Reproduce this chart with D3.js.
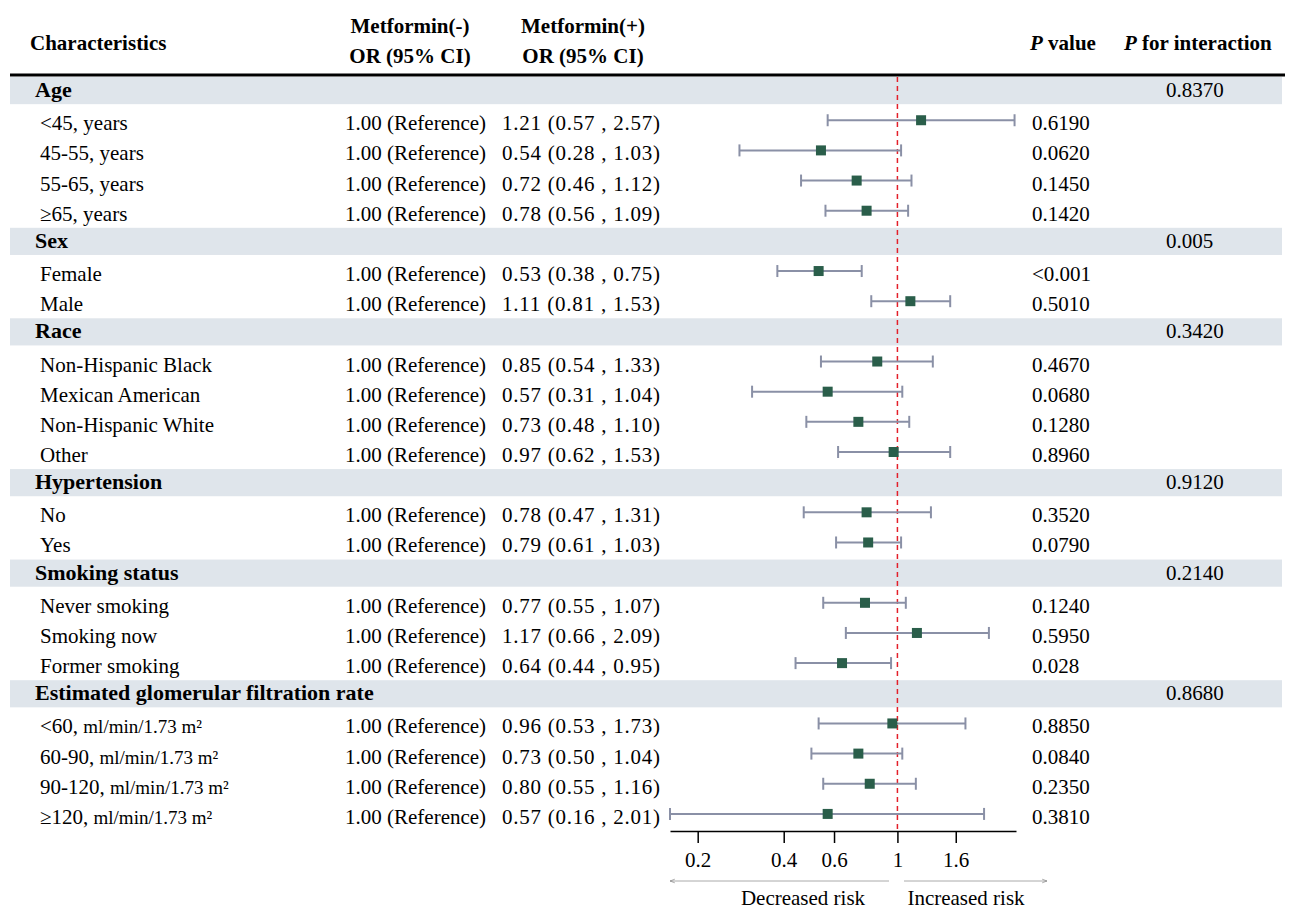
<!DOCTYPE html>
<html>
<head>
<meta charset="utf-8">
<script src="https://cdn.jsdelivr.net/npm/d3@7"></script>
<style>
  body { margin: 0; background: #fff; }
  svg { display: block; font-family: "Liberation Serif", "DejaVu Serif", serif; }
</style>
</head>
<body>
<div id="chart"></div>
<script>
// group headers and their interaction p values
const groups = ["Age", "Sex", "Race", "Hypertension", "Smoking status", "Estimated glomerular filtration rate"];
const pInteraction = ["0.8370", "0.005", "0.3420", "0.9120", "0.2140", "0.8680"];

// subgroup rows
const subGroup = [0, 0, 0, 0, 1, 1, 2, 2, 2, 2, 3, 3, 4, 4, 4, 5, 5, 5, 5];
const subLabels = ["<45, years", "45-55, years", "55-65, years", "\u226565, years",
  "Female", "Male",
  "Non-Hispanic Black", "Mexican American", "Non-Hispanic White", "Other",
  "No", "Yes",
  "Never smoking", "Smoking now", "Former smoking",
  "<60, |ml/min/1.73 m\u00b2", "60-90, |ml/min/1.73 m\u00b2", "90-120, |ml/min/1.73 m\u00b2", "\u2265120, |ml/min/1.73 m\u00b2"];
const orValues = [1.21, 0.54, 0.72, 0.78, 0.53, 1.11, 0.85, 0.57, 0.73, 0.97, 0.78, 0.79, 0.77, 1.17, 0.64, 0.96, 0.73, 0.80, 0.57];
const lowerCI = [0.57, 0.28, 0.46, 0.56, 0.38, 0.81, 0.54, 0.31, 0.48, 0.62, 0.47, 0.61, 0.55, 0.66, 0.44, 0.53, 0.50, 0.55, 0.16];
const upperCI = [2.57, 1.03, 1.12, 1.09, 0.75, 1.53, 1.33, 1.04, 1.10, 1.53, 1.31, 1.03, 1.07, 2.09, 0.95, 1.73, 1.04, 1.16, 2.01];
const pValues = ["0.6190", "0.0620", "0.1450", "0.1420", "<0.001", "0.5010", "0.4670", "0.0680", "0.1280", "0.8960",
  "0.3520", "0.0790", "0.1240", "0.5950", "0.028", "0.8850", "0.0840", "0.2350", "0.3810"];

const tickValues = [0.2, 0.4, 0.6, 1, 1.6];
const tickLabels = ["0.2", "0.4", "0.6", "1", "1.6"];

// build the row list: header then its subgroups
const rows = [];
groups.forEach((g, gi) => {
  rows.push({ type: "group", label: g, pint: pInteraction[gi] });
  subGroup.forEach((sg, i) => {
    if (sg === gi) {
      rows.push({ type: "item", label: subLabels[i], or: orValues[i], lo: lowerCI[i], hi: upperCI[i], p: pValues[i] });
    }
  });
});

const width = 1292, height = 915;
const svg = d3.select("#chart").append("svg")
  .attr("width", width)
  .attr("height", height);

svg.append("rect").attr("width", width).attr("height", height).attr("fill", "#fff");

const y = d3.scaleBand()
  .domain(d3.range(rows.length))
  .range([75, 829]);

const x = d3.scaleLog()
  .domain([0.16, 2.6])
  .range([670, 1016]);

const fs = 21;

// column headers
const head = svg.append("g").attr("font-weight", "bold").attr("font-size", fs).attr("fill", "#000");
head.append("text").attr("x", 30).attr("y", 50).text("Characteristics");
head.append("text").attr("x", 410).attr("y", 33).attr("text-anchor", "middle").text("Metformin(-)");
head.append("text").attr("x", 410).attr("y", 63).attr("text-anchor", "middle").text("OR (95% CI)");
head.append("text").attr("x", 583).attr("y", 33).attr("text-anchor", "middle").text("Metformin(+)");
head.append("text").attr("x", 583).attr("y", 63).attr("text-anchor", "middle").text("OR (95% CI)");
const pv = head.append("text").attr("x", 1030).attr("y", 50);
pv.append("tspan").attr("font-style", "italic").text("P");
pv.append("tspan").text(" value");
const pi = head.append("text").attr("x", 1124).attr("y", 50);
pi.append("tspan").attr("font-style", "italic").text("P");
pi.append("tspan").text(" for interaction");

// group bands
const groupRows = rows.map((r, i) => ({ ...r, i })).filter(r => r.type === "group");
const itemRows = rows.map((r, i) => ({ ...r, i })).filter(r => r.type === "item");

svg.append("g").selectAll("rect")
  .data(groupRows)
  .join("rect")
  .attr("x", 10)
  .attr("width", 1272)
  .attr("y", d => y(d.i) + 2)
  .attr("height", y.bandwidth() - 3)
  .attr("fill", "#dfe5eb");

// thick header rule
svg.append("line")
  .attr("x1", 10).attr("x2", 1285)
  .attr("y1", 75).attr("y2", 75)
  .attr("stroke", "#000").attr("stroke-width", 3);

const mid = i => y(i) + y.bandwidth() / 2;

// group labels
const gl = svg.append("g").attr("font-size", fs);
gl.selectAll("text.gname")
  .data(groupRows)
  .join("text")
  .attr("class", "gname")
  .attr("x", 35)
  .attr("y", d => mid(d.i) + 7)
  .attr("font-weight", "bold")
  .attr("font-size", 22)
  .text(d => d.label);
gl.selectAll("text.pint")
  .data(groupRows)
  .join("text")
  .attr("class", "pint")
  .attr("x", 1166)
  .attr("y", d => mid(d.i) + 7)
  .text(d => d.pint);

// item labels and columns
const il = svg.append("g").attr("font-size", fs);
const lab = il.selectAll("text.lab")
  .data(itemRows)
  .join("text")
  .attr("class", "lab")
  .attr("x", 40)
  .attr("y", d => mid(d.i) + 10);
lab.each(function (d) {
  const parts = d.label.split("|");
  const t = d3.select(this);
  t.append("tspan").text(parts[0]);
  if (parts[1]) t.append("tspan").attr("font-size", 19).text(parts[1]);
});

il.selectAll("text.ref")
  .data(itemRows)
  .join("text")
  .attr("class", "ref")
  .attr("x", 345)
  .attr("y", d => mid(d.i) + 10)
  .text("1.00 (Reference)");

const f2 = d3.format(".2f");
il.selectAll("text.or")
  .data(itemRows)
  .join("text")
  .attr("class", "or")
  .attr("x", 502)
  .attr("y", d => mid(d.i) + 10)
  .attr("textLength", 158)
  .attr("lengthAdjust", "spacing")
  .text(d => `${f2(d.or)} (${f2(d.lo)} , ${f2(d.hi)})`);

il.selectAll("text.p")
  .data(itemRows)
  .join("text")
  .attr("class", "p")
  .attr("x", 1032)
  .attr("y", d => mid(d.i) + 10)
  .text(d => d.p);

// reference line at OR = 1
svg.append("line")
  .attr("x1", x(1)).attr("x2", x(1))
  .attr("y1", 77).attr("y2", 831)
  .attr("stroke", "#e3202a")
  .attr("stroke-width", 1.5)
  .attr("stroke-dasharray", "5,4");

// confidence intervals
const ci = svg.append("g").attr("stroke", "#8a90a6").attr("stroke-width", 2);
ci.selectAll("line.ci")
  .data(itemRows)
  .join("line")
  .attr("class", "ci")
  .attr("x1", d => x(d.lo)).attr("x2", d => x(d.hi))
  .attr("y1", d => mid(d.i)).attr("y2", d => mid(d.i));
ci.selectAll("line.capl")
  .data(itemRows)
  .join("line")
  .attr("class", "capl")
  .attr("x1", d => x(d.lo)).attr("x2", d => x(d.lo))
  .attr("y1", d => mid(d.i) - 6).attr("y2", d => mid(d.i) + 6);
ci.selectAll("line.caph")
  .data(itemRows)
  .join("line")
  .attr("class", "caph")
  .attr("x1", d => x(d.hi)).attr("x2", d => x(d.hi))
  .attr("y1", d => mid(d.i) - 6).attr("y2", d => mid(d.i) + 6);

svg.append("g").selectAll("rect")
  .data(itemRows)
  .join("rect")
  .attr("x", d => x(d.or) - 5)
  .attr("y", d => mid(d.i) - 5)
  .attr("width", 10).attr("height", 10)
  .attr("fill", "#2a5e4a");

// axis
const axis = svg.append("g")
  .attr("transform", "translate(0,831)")
  .call(d3.axisBottom(x)
    .tickValues(tickValues)
    .tickFormat((d, i) => tickLabels[i])
    .tickSize(12)
    .tickSizeOuter(0)
    .tickPadding(9));
axis.select(".domain").attr("stroke", "#000").attr("stroke-width", 1.5);
axis.selectAll(".tick line").attr("stroke", "#000").attr("stroke-width", 1.5);
axis.selectAll(".tick text")
  .attr("font-family", "Liberation Serif, serif")
  .attr("font-size", fs)
  .attr("fill", "#000");

// risk arrows
const defs = svg.append("defs");
defs.append("marker")
  .attr("id", "arr")
  .attr("viewBox", "0 0 10 10")
  .attr("refX", 9).attr("refY", 5)
  .attr("markerWidth", 6).attr("markerHeight", 6)
  .attr("orient", "auto-start-reverse")
  .append("path")
  .attr("d", "M1,2 L9,5 L1,8")
  .attr("fill", "none")
  .attr("stroke", "#888")
  .attr("stroke-width", 1.2);

svg.append("line")
  .attr("x1", 670).attr("x2", 889)
  .attr("y1", 881).attr("y2", 881)
  .attr("stroke", "#aaa").attr("stroke-width", 1)
  .attr("marker-start", "url(#arr)");
svg.append("line")
  .attr("x1", 904).attr("x2", 1047)
  .attr("y1", 881).attr("y2", 881)
  .attr("stroke", "#aaa").attr("stroke-width", 1)
  .attr("marker-end", "url(#arr)");

svg.append("text")
  .attr("x", 803).attr("y", 905)
  .attr("text-anchor", "middle")
  .attr("font-size", fs)
  .text("Decreased risk");
svg.append("text")
  .attr("x", 966).attr("y", 905)
  .attr("text-anchor", "middle")
  .attr("font-size", fs)
  .text("Increased risk");
</script>
</body>
</html>
